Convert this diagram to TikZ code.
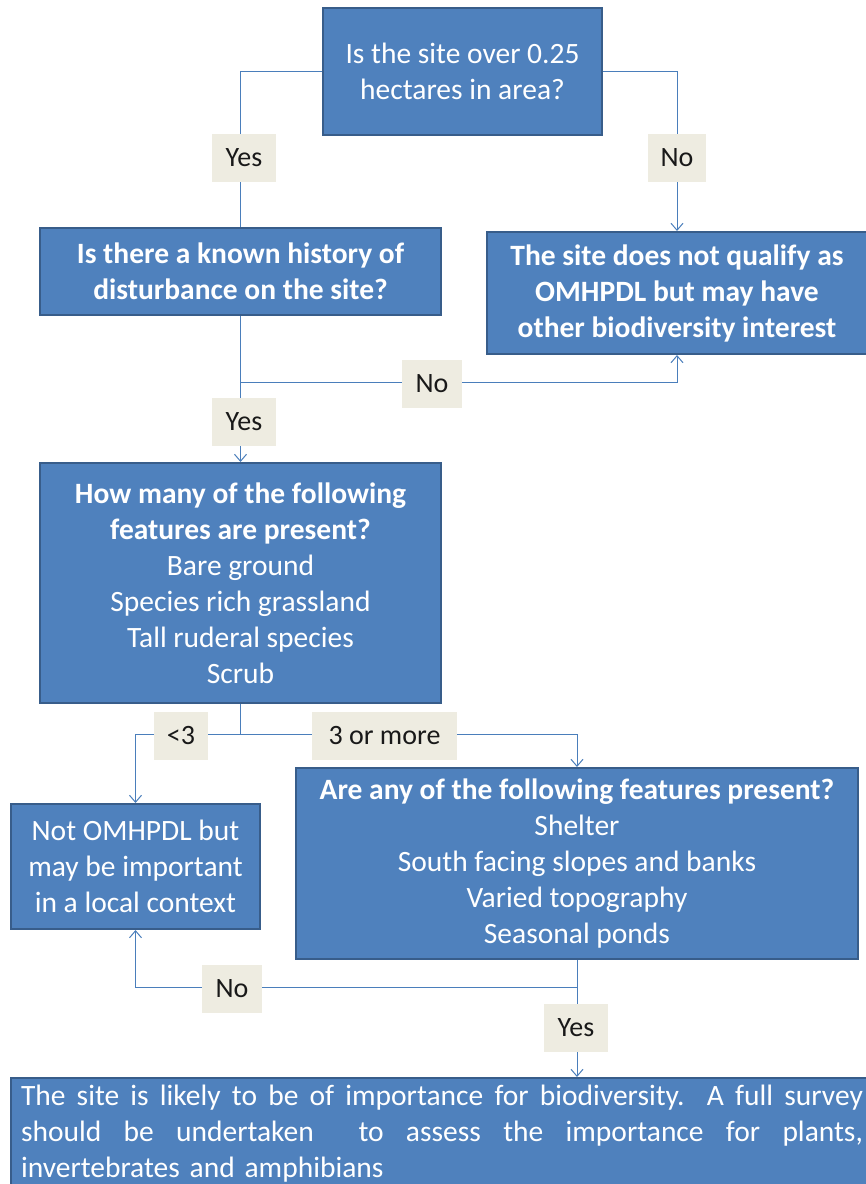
\documentclass[tikz,border=0pt]{standalone}
\usepackage{fontspec}
\setmainfont{Carlito}
\usepackage{xcolor}
\usepackage{tikz}
\usetikzlibrary{arrows.meta,positioning,calc}
\definecolor{fcBlue}{HTML}{4F81BD}
\definecolor{fcEdge}{HTML}{385D8A}
\definecolor{fcTan}{HTML}{EEECE1}
\definecolor{fcLine}{HTML}{4A7EBB}
\newcommand{\fullline}[1]{\makebox[842pt][s]{\spaceskip=\fontdimen2\font plus 1fil\relax #1}}
\tikzset{
  flow box/.style={draw=fcEdge,line width=2pt,fill=fcBlue,text=white,align=center,inner sep=0pt,
    font=\fontsize{29.5}{36}\selectfont},
  question box/.style={flow box,font=\fontsize{29.5}{36}\selectfont\bfseries},
  answer tag/.style={fill=fcTan,text=black!90,inner sep=0pt,minimum height=48pt,
    font=\fontsize{28}{30}\selectfont},
  flow line/.style={draw=fcLine,line width=1pt},
  flow arrow/.style={flow line,-{Straight Barb[length=7pt,width=12pt]}}
}
\begin{document}
\begin{tikzpicture}[x=1pt,y=-1pt]
\useasboundingbox (0,0) rectangle (866,1184);
\node[flow box,minimum width=279pt,minimum height=127pt] (area) at (462.5,71.5) {Is the site over 0.25\\hectares in area?};
\node[question box,minimum width=401pt,minimum height=87pt] (hist) at (240.5,271.5) {Is there a known history of\\disturbance on the site?};
\node[question box,minimum width=381pt,minimum height=122pt] (noq) at (677,293) {The site does not qualify as\\OMHPDL but may have\\other biodiversity interest};
\node[flow box,minimum width=401pt,minimum height=240pt] (count) at (240.5,583) {\textbf{How many of the following}\\\textbf{features are present?}\\Bare ground\\Species rich grassland\\Tall ruderal species\\Scrub};
\node[flow box,minimum width=249pt,minimum height=125pt] (local) at (135.5,866.5) {Not OMHPDL but\\may be important\\in a local context};
\node[flow box,minimum width=562pt,minimum height=191pt] (feat) at (577,863.5) {\textbf{Are any of the following features present?}\\Shelter\\South facing slopes and banks\\Varied topography\\Seasonal ponds};
\node[flow box,anchor=north west,text width=842pt,align=left,inner xsep=10pt,inner ysep=7pt] (survey) at (10,1077)
  {\fullline{The site is likely to be of importance for biodiversity.\ \ A full survey}\\
   \fullline{should be undertaken\ \ to assess the importance for plants,}\\
   invertebrates and amphibians};
% connectors first, tags on top
\draw[flow line] (area.west) -| (hist.north);
\draw[flow arrow] (area.east) -| (noq.north);
\draw[flow arrow] (hist.south) -- (count.north);
\coordinate (splitA) at (240.5,382);
\draw[flow arrow] (splitA) -| (noq.south);
\coordinate (splitB) at (240.5,734.5);
\draw[flow line] (count.south) -- (splitB);
\draw[flow arrow] (splitB) -| (local.north);
\draw[flow arrow] (splitB) -| (feat.north);
\draw[flow arrow] (feat.south) -- (feat.south |- survey.north);
\coordinate (splitC) at (577,987);
\draw[flow arrow] (splitC) -| (local.south);
\node[answer tag,minimum width=64pt] (yesA) at (244,157.5) {Yes};
\node[answer tag,minimum width=58pt] (noA) at (677,157.5) {No};
\node[answer tag,minimum width=60pt] (noB) at (432,383.5) {No};
\node[answer tag,minimum width=64pt] (yesB) at (244,422) {Yes};
\node[answer tag,minimum width=54pt] (few) at (181,735.5) {<3};
\node[answer tag,minimum width=145pt] (many) at (384.5,735.5) {3 or more};
\node[answer tag,minimum width=60pt] (noC) at (232,989) {No};
\node[answer tag,minimum width=64pt] (yesC) at (576,1028) {Yes};
\end{tikzpicture}
\end{document}
